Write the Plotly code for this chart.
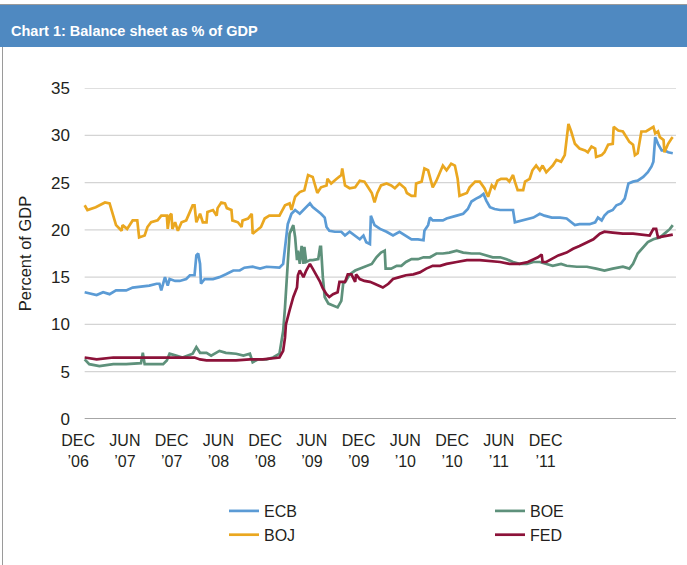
import plotly.graph_objects as go

# ---------------- data (x = months since start of Dec 2006) ----------------
ecb_m = [0.0, 1.3, 2.0, 2.7, 3.4, 4.5, 5.2, 6.3, 7.0, 7.8, 8.1, 8.3, 8.7, 9.0, 9.2, 9.8, 10.3, 11.0, 11.4, 11.9,
         12.1, 12.3, 12.5, 12.6, 13.0, 13.9, 14.6, 15.3, 16.1, 16.8, 17.3, 18.2, 19.0, 19.7, 21.1, 21.5, 21.8,
         22.0, 22.4, 22.8, 23.3, 23.8, 24.4, 24.7, 25.1, 25.6, 26.0, 26.2, 26.5, 27.1, 27.8, 28.2, 28.7, 29.3,
         29.8, 30.2, 30.5, 30.9, 31.0, 31.4, 32.0, 32.7, 33.4, 34.1, 34.7, 35.4, 36.1, 36.7, 36.8, 37.2, 37.4,
         37.7, 38.8, 39.2, 40.3, 41.0, 41.5, 41.9, 42.4, 42.8, 43.2, 43.5, 43.9, 44.4, 45.0, 46.4, 46.6, 47.3,
         48.0, 48.6, 49.3, 49.8, 50.6, 51.5, 52.2, 52.7, 53.1, 53.6, 54.7, 55.3, 55.6, 56.0, 56.3, 56.7, 57.2,
         57.6, 58.1, 58.5, 58.9, 59.4, 59.9, 60.5, 61.0, 61.4, 61.6, 61.8, 62.1, 62.5, 62.8, 63.2, 63.7]
ecb_v = [13.4, 13.1, 13.4, 13.2, 13.6, 13.6, 13.9, 14.0, 14.1, 14.3, 14.3, 13.6, 15.0, 14.1, 14.8, 14.6, 14.6,
         14.8, 15.2, 15.2, 17.3, 17.5, 16.4, 14.3, 14.8, 14.8, 15.0, 15.3, 15.7, 15.7, 16.0, 16.1, 15.9, 16.1,
         16.0, 16.4, 19.4, 20.6, 21.7, 22.1, 21.7, 22.2, 22.8, 22.4, 22.1, 21.7, 21.3, 20.3, 19.9, 19.8, 19.8,
         19.4, 19.8, 19.4, 19.0, 19.4, 18.7, 18.5, 21.5, 20.5, 20.1, 19.8, 19.4, 19.8, 19.4, 19.0, 19.0, 18.9,
         19.9, 20.5, 21.3, 21.0, 21.0, 21.2, 21.5, 21.7, 22.2, 23.0, 23.3, 23.5, 23.8, 23.1, 22.4, 22.2, 22.1,
         22.1, 20.8, 21.0, 21.2, 21.3, 21.7, 21.5, 21.3, 21.3, 21.2, 20.8, 20.5, 20.6, 20.6, 20.8, 21.3, 21.0,
         21.5, 21.9, 22.1, 22.6, 22.8, 23.3, 24.9, 25.1, 25.2, 25.6, 26.1, 26.7, 27.2, 29.8, 29.1, 28.4, 28.4,
         28.2, 28.1]

boe_m = [0.0, 0.5, 1.6, 3.1, 4.5, 6.1, 6.3, 6.5, 7.8, 8.5, 8.9, 9.2, 9.9, 10.6, 11.7, 12.1, 12.5, 13.2, 13.7,
         14.6, 15.3, 16.4, 17.2, 17.9, 18.2, 18.8, 19.7, 20.4, 21.1, 21.5, 21.7, 21.8, 22.0, 22.2, 22.6, 22.8,
         23.0, 23.1, 23.3, 23.5, 23.7, 23.8, 24.0, 24.4, 24.7, 25.3, 25.5, 25.6, 25.8, 26.0, 26.4, 26.9, 27.4,
         27.8, 28.0, 28.3, 28.7, 29.3, 29.8, 30.5, 31.1, 31.6, 32.1, 32.5, 32.6, 33.2, 33.8, 34.3, 34.8, 35.4,
         36.1, 36.7, 37.4, 38.1, 38.8, 39.5, 40.3, 41.0, 41.9, 42.8, 43.5, 44.2, 45.0, 45.7, 46.4, 47.1, 47.9,
         48.6, 49.3, 50.0, 50.7, 51.6, 52.2, 53.3, 54.4, 55.4, 56.3, 57.2, 58.3, 59.0, 59.4, 59.9, 60.5, 61.0,
         61.6, 62.3, 62.8, 63.4, 63.7]
boe_v = [6.3, 5.8, 5.6, 5.8, 5.8, 5.9, 7.0, 5.8, 5.8, 5.8, 6.2, 6.9, 6.7, 6.5, 6.9, 7.6, 7.0, 7.0, 6.7, 7.2,
         7.0, 6.9, 6.7, 6.9, 6.0, 6.3, 6.3, 6.5, 6.9, 9.3, 11.8, 13.2, 16.8, 19.6, 20.5, 19.2, 16.8, 17.8,
         16.4, 18.3, 16.4, 18.2, 16.6, 16.8, 16.8, 16.9, 18.2, 18.2, 15.0, 12.9, 12.2, 12.0, 11.8, 12.5, 14.3,
         14.6, 15.3, 15.7, 15.9, 16.1, 16.4, 17.1, 17.6, 17.8, 15.9, 15.9, 16.2, 16.2, 16.6, 16.9, 16.9, 17.1,
         17.1, 17.5, 17.5, 17.6, 17.8, 17.6, 17.5, 17.5, 17.3, 17.1, 17.1, 16.9, 16.6, 16.4, 16.4, 16.6, 16.6,
         16.4, 16.2, 16.4, 16.2, 16.1, 16.1, 15.9, 15.7, 15.9, 16.1, 15.9, 16.4, 17.5, 18.2, 18.7, 19.0, 19.2,
         19.6, 20.1, 20.5]

boj_m = [0.0, 0.3, 1.2, 2.2, 2.7, 3.0, 3.4, 4.0, 4.1, 4.6, 5.2, 5.7, 5.9, 6.5, 6.8, 7.2, 7.9, 8.3, 8.9, 9.0,
         9.2, 9.4, 9.5, 9.8, 10.1, 10.5, 11.0, 11.4, 11.7, 11.9, 12.1, 12.5, 12.8, 13.2, 13.3, 13.9, 14.3,
         14.4, 14.8, 15.2, 15.4, 15.9, 16.0, 16.6, 17.0, 17.1, 17.7, 18.1, 18.2, 18.6, 19.1, 19.5, 20.0, 21.1,
         21.7, 22.2, 22.4, 22.8, 23.3, 23.8, 24.2, 24.7, 24.9, 25.2, 25.6, 26.2, 26.3, 26.7, 27.3, 27.8, 27.9,
         28.2, 28.7, 29.3, 29.8, 30.3, 30.7, 31.1, 31.4, 31.7, 32.1, 32.7, 33.2, 33.6, 34.1, 34.7, 34.9, 35.4,
         35.8, 35.9, 36.5, 36.8, 37.2, 37.4, 37.7, 38.1, 38.5, 38.8, 39.2, 39.7, 40.1, 40.4, 40.6, 41.4, 41.7,
         42.3, 42.8, 43.3, 43.7, 44.1, 44.4, 44.7, 45.1, 45.7, 46.0, 46.4, 46.6, 46.9, 47.5, 47.7, 48.2, 48.5,
         48.9, 49.3, 49.6, 50.0, 50.4, 50.7, 51.1, 51.6, 52.0, 52.4, 52.7, 53.1, 53.6, 54.2, 54.5, 54.9, 55.3,
         55.4, 56.0, 56.3, 56.7, 57.2, 57.3, 57.8, 58.3, 58.7, 59.0, 59.4, 59.6, 59.9, 60.3, 60.8, 61.2, 61.6,
         61.8, 62.1, 62.3, 62.7, 62.8, 63.2, 63.6, 63.7]
boj_v = [22.6, 22.1, 22.4, 22.9, 22.8, 21.9, 20.5, 19.9, 20.5, 20.1, 21.0, 21.0, 19.2, 19.4, 20.3, 20.8, 21.0,
         21.5, 21.5, 20.1, 21.5, 21.7, 20.1, 20.8, 19.9, 20.8, 21.0, 21.9, 22.6, 22.6, 20.8, 21.7, 20.8, 20.8,
         21.9, 22.1, 21.5, 22.3, 22.9, 22.8, 22.3, 22.1, 21.0, 20.8, 20.3, 21.0, 21.2, 21.7, 19.6, 19.9, 20.3,
         21.2, 21.5, 21.5, 22.6, 22.8, 22.1, 23.5, 24.0, 24.2, 25.8, 25.6, 24.9, 23.9, 24.5, 24.7, 25.4, 24.9,
         25.4, 25.8, 26.5, 24.7, 24.4, 24.5, 25.2, 25.1, 24.5, 23.9, 22.9, 23.9, 24.7, 24.9, 24.7, 24.4, 24.9,
         24.4, 23.9, 23.6, 23.6, 24.9, 25.1, 26.5, 26.3, 25.6, 24.5, 25.2, 26.1, 26.8, 26.3, 27.0, 26.8, 25.4,
         23.6, 23.9, 24.5, 25.1, 25.1, 24.4, 23.5, 24.7, 24.4, 25.2, 25.4, 25.4, 25.1, 25.8, 25.1, 24.2, 24.2,
         25.1, 25.4, 26.3, 26.8, 26.3, 26.8, 26.1, 26.5, 26.8, 27.4, 27.2, 27.9, 31.2, 30.4, 29.1, 28.6, 28.4,
         28.2, 28.8, 28.6, 27.7, 27.9, 28.2, 29.0, 29.1, 30.9, 30.5, 30.4, 29.8, 29.3, 29.0, 27.9, 28.1, 30.4,
         30.4, 30.7, 30.9, 30.2, 30.4, 29.8, 29.5, 28.2, 29.1, 29.7, 29.8]

fed_m = [0.0, 1.3, 3.1, 4.9, 6.7, 8.5, 10.3, 11.9, 12.5, 13.2, 14.6, 16.4, 17.9, 19.3, 21.1, 21.5, 21.7, 21.8,
         22.2, 22.6, 23.0, 23.1, 23.3, 23.7, 24.0, 24.4, 24.7, 25.1, 25.5, 25.8, 26.2, 26.5, 26.9, 27.4, 27.6,
         28.2, 28.5, 28.9, 29.3, 29.4, 29.8, 30.3, 30.9, 31.4, 31.8, 32.3, 32.9, 33.4, 34.1, 34.8, 35.6, 36.3,
         37.0, 37.7, 38.5, 39.2, 40.3, 41.4, 42.8, 43.9, 45.0, 46.0, 47.1, 48.0, 48.6, 49.1, 49.5, 49.6, 50.0,
         50.6, 51.3, 52.2, 52.9, 53.6, 54.4, 55.1, 55.8, 56.3, 57.2, 58.3, 59.4, 60.5, 61.2, 61.6, 61.9, 62.1,
         63.0, 63.7]
fed_v = [6.5, 6.3, 6.5, 6.5, 6.5, 6.5, 6.5, 6.5, 6.3, 6.2, 6.2, 6.2, 6.3, 6.3, 6.5, 7.2, 8.6, 10.0, 11.5,
         12.9, 13.9, 15.2, 15.7, 15.0, 15.7, 16.4, 15.9, 15.2, 14.5, 13.8, 13.2, 12.9, 13.2, 13.4, 14.5, 14.5,
         15.3, 15.3, 14.5, 15.3, 14.8, 14.6, 14.5, 14.3, 14.1, 13.9, 14.3, 14.8, 15.0, 15.2, 15.3, 15.5, 15.9,
         16.2, 16.2, 16.4, 16.6, 16.8, 16.8, 16.7, 16.6, 16.4, 16.4, 16.6, 16.9, 17.1, 17.4, 16.6, 16.6, 16.9,
         17.3, 17.6, 18.0, 18.3, 18.7, 19.0, 19.6, 19.8, 19.7, 19.6, 19.6, 19.5, 19.4, 20.1, 20.1, 19.2, 19.4,
         19.5]

tick_labels = ["DEC<br>’06", "JUN<br>’07", "DEC<br>’07", "JUN<br>’08", "DEC<br>’08", "JUN<br>’09",
               "DEC<br>’09", "JUN<br>’10", "DEC<br>’10", "JUN<br>’11", "DEC<br>’11"]
y_ticks = [0, 5, 10, 15, 20, 25, 30, 35]

# ---------------- styling ----------------
FONT = "Liberation Sans, Arial, sans-serif"
TXT = "#231F20"
W, H = 687, 565
L, R, T, B = 78, 11, 88, 146
X_MIN, X_MAX = -0.72, 64.05
TICK0, DTICK = -0.70, 5.062

series = [
    ("ECB", ecb_m, ecb_v, "#5B9BD5"),
    ("BOE", boe_m, boe_v, "#5E917B"),
    ("BOJ", boj_m, boj_v, "#EAA720"),
    ("FED", fed_m, fed_v, "#8C1239"),
]

fig = go.Figure()
for name, xm, yv, col in series:
    fig.add_trace(go.Scatter(x=xm, y=yv, name=name, mode="lines",
                             line=dict(color=col, width=2.7), cliponaxis=False))

PW, PH = W - L - R, H - T - B
def pxx(px):
    return (px - L) / PW
def pxy(py):
    return (H - B - py) / PH

shapes = []
for v in y_ticks[1:]:
    shapes.append(dict(type="line", xref="x", yref="y", x0=0, x1=X_MAX, y0=v, y1=v,
                       line=dict(color="#D4D4D4", width=1.3), layer="below"))
shapes.append(dict(type="line", xref="x", yref="y", x0=0, x1=X_MAX, y0=0, y1=0,
                   line=dict(color="#A6A6A6", width=2.2), layer="below"))
shapes.append(dict(type="rect", xref="paper", yref="paper", x0=pxx(0), x1=pxx(W), y0=pxy(47), y1=pxy(5),
                   fillcolor="#4F89C1", line=dict(width=0), layer="below"))
shapes.append(dict(type="line", xref="paper", yref="paper", x0=pxx(0), x1=pxx(W), y0=pxy(4.5), y1=pxy(4.5),
                   line=dict(color="#9A9A9A", width=1)))
shapes.append(dict(type="line", xref="paper", yref="paper", x0=pxx(2.5), x1=pxx(2.5), y0=pxy(47), y1=pxy(H),
                   line=dict(color="#9A9A9A", width=1)))

fig.update_layout(
    width=W, height=H,
    margin=dict(l=L, r=R, t=T, b=B, autoexpand=False),
    paper_bgcolor="white", plot_bgcolor="white",
    font=dict(family=FONT, size=16, color=TXT),
    shapes=shapes,
    annotations=[dict(text="<b>Chart 1: Balance sheet as % of GDP</b>", xref="paper", yref="paper",
                      x=pxx(9), y=pxy(31), xanchor="left", yanchor="middle", showarrow=False,
                      font=dict(family=FONT, size=14.5, color="white"))],
    xaxis=dict(range=[X_MIN, X_MAX], tickmode="array", automargin=False,
               tickvals=[TICK0 + DTICK * i for i in range(len(tick_labels))], ticktext=tick_labels,
               showgrid=False, zeroline=False, showline=False, ticks="", ticklabelstandoff=10,
               tickfont=dict(size=16, color=TXT)),
    yaxis=dict(range=[0, 35], tickvals=y_ticks, showgrid=False, zeroline=False, showline=False,
               automargin=False, ticks="", ticklabelstandoff=7, tickfont=dict(size=17, color=TXT),
               title=dict(text="Percent of GDP", font=dict(size=16.5, color=TXT))),
    legend=dict(orientation="h", x=pxx(224), y=pxy(494), xanchor="left", yanchor="top",
                entrywidth=221, entrywidthmode="pixels", font=dict(size=16, color=TXT),
                bgcolor="rgba(0,0,0,0)"),
    showlegend=True,
)

fig.write_html("out.html", config={"displayModeBar": False},
               post_script="document.body.style.margin='0';")
